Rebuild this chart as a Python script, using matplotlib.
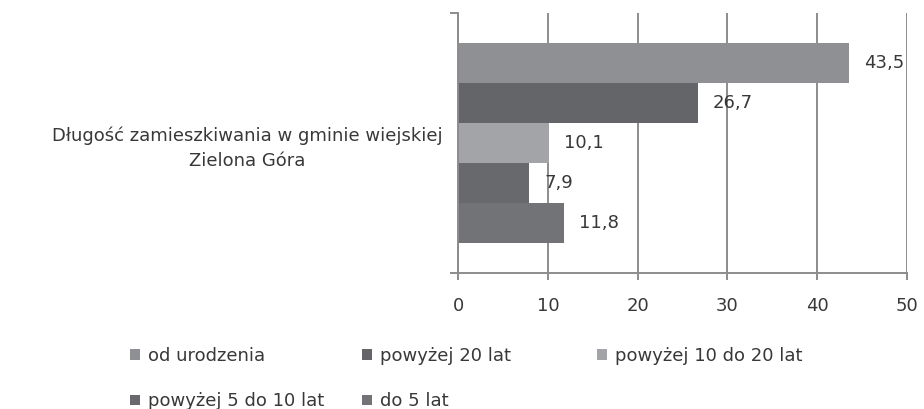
import matplotlib
matplotlib.use("Agg")
import matplotlib.pyplot as plt

plt.rcParams['font.family'] = ['DejaVu Sans']

category = "Długość zamieszkiwania w gminie wiejskiej\nZielona Góra"
series = ["od urodzenia", "powyżej 20 lat", "powyżej 10 do 20 lat",
          "powyżej 5 do 10 lat", "do 5 lat"]
values = [43.5, 26.7, 10.1, 7.9, 11.8]
value_labels = ["43,5", "26,7", "10,1", "7,9", "11,8"]
colors = ["#8f9093", "#646568", "#a3a4a7", "#68696c", "#727376"]
x_ticks = [0, 10, 20, 30, 40, 50]

fig = plt.figure(figsize=(9.24, 4.09), dpi=100)
ax = fig.add_axes([0.4957, 0.3325, 0.4859, 0.6357])

grid_color = "#8c8c8c"
text_color = "#383838"
fs = 13
bar_h = 0.1538
n = len(values)

handles = []
for i, (name, v, c, lab) in enumerate(zip(series, values, colors, value_labels)):
    y = 0.5 + ((n - 1) / 2 - i) * bar_h
    b = ax.barh(y, v, height=bar_h, color=c, edgecolor='none', zorder=3, label=name)
    handles.append(b[0])
    ax.annotate(lab, xy=(v, y), xytext=(11, 0), textcoords='offset points',
                ha='left', va='center', fontsize=fs, color=text_color, zorder=4)

ax.set_xlim(0, 50)
ax.set_ylim(0, 1)
ax.set_xticks(x_ticks)
ax.set_xticklabels([str(t) for t in x_ticks])
ax.xaxis.grid(True, color=grid_color, linewidth=1.4, zorder=1)
ax.tick_params(axis='x', length=5, width=1.4, color=grid_color,
               labelsize=fs, labelcolor=text_color, pad=12)

ax.set_yticks([0.5])
ax.set_yticklabels([category], multialignment='center', linespacing=1.45)
ax.set_yticks([0, 1], minor=True)
ax.tick_params(axis='y', which='major', length=0, pad=11,
               labelsize=fs, labelcolor=text_color)
ax.tick_params(axis='y', which='minor', length=6, width=1.4, color=grid_color)

for s in ['top', 'right']:
    ax.spines[s].set_visible(False)
for s in ['left', 'bottom']:
    ax.spines[s].set_color(grid_color)
    ax.spines[s].set_linewidth(1.4)
    ax.spines[s].set_zorder(5)

# legend laid out as three equal-width columns, filled row by row
leg_kw = dict(frameon=False, fontsize=fs, handlelength=0.55, handleheight=0.55,
              handletextpad=0.45, labelcolor=text_color, borderaxespad=0,
              borderpad=0, labelspacing=1.52, loc='upper left')
columns = [[0, 3], [1, 4], [2]]
col_x = [130, 362, 597]
for idx, x0 in zip(columns, col_x):
    leg = fig.legend([handles[k] for k in idx], [series[k] for k in idx],
                     bbox_to_anchor=(x0 / 924, 1 - 347 / 409), **leg_kw)

fig.savefig("out.png", dpi=100)
